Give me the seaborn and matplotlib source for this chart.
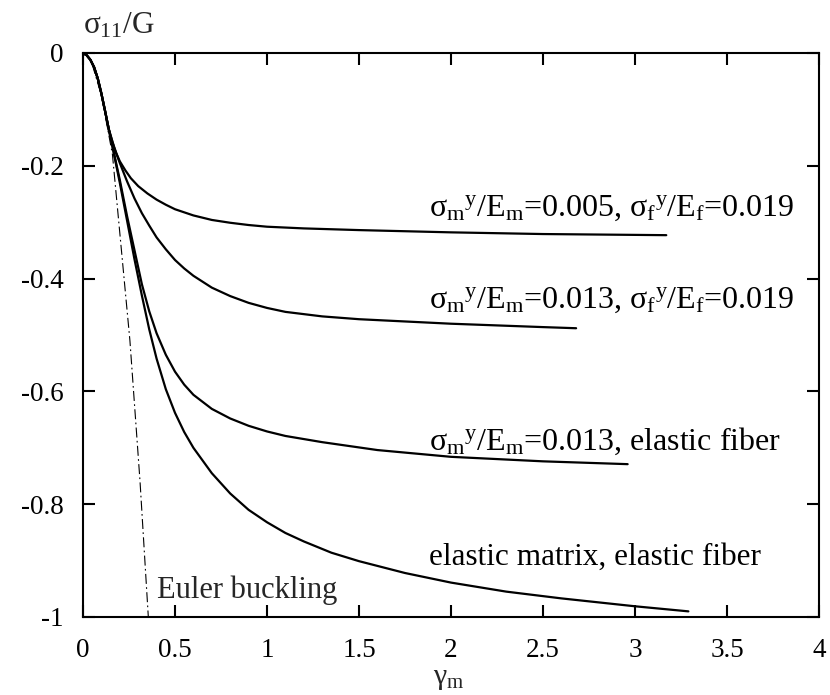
import matplotlib
matplotlib.use("Agg")
import matplotlib.pyplot as plt
import seaborn as sns
import pandas as pd

# ---------------- data ----------------
x_ticks = [0, 0.5, 1, 1.5, 2, 2.5, 3, 3.5, 4]
x_tick_labels = ["0", "0.5", "1", "1.5", "2", "2.5", "3", "3.5", "4"]
y_ticks = [0, -0.2, -0.4, -0.6, -0.8, -1.0]
y_tick_labels = ["0", "-0.2", "-0.4", "-0.6", "-0.8", "-1"]

start_x = [0.0, 0.02, 0.04, 0.06, 0.08, 0.10, 0.12, 0.14]
start_y = [0.0, -0.004, -0.012, -0.025, -0.045, -0.072, -0.103, -0.135]

c1_x = [0.16, 0.18, 0.20, 0.23, 0.26, 0.30, 0.35, 0.40, 0.45, 0.50, 0.60, 0.70,
        0.80, 0.90, 1.00, 1.2, 1.5, 2.0, 2.5, 3.17]
c1_y = [-0.158, -0.177, -0.192, -0.208, -0.222, -0.236, -0.249, -0.26, -0.269,
        -0.277, -0.288, -0.296, -0.301, -0.305, -0.308, -0.311, -0.314, -0.318,
        -0.321, -0.323]

c2_x = [0.17, 0.20, 0.24, 0.28, 0.32, 0.36, 0.40, 0.45, 0.50, 0.55, 0.60, 0.70,
        0.80, 0.90, 1.00, 1.1, 1.3, 1.5, 2.0, 2.5, 2.68]
c2_y = [-0.168, -0.195, -0.228, -0.258, -0.284, -0.306, -0.327, -0.348, -0.367,
        -0.382, -0.395, -0.416, -0.431, -0.443, -0.452, -0.459, -0.467, -0.472,
        -0.48, -0.486, -0.488]

c3_x = [0.17, 0.20, 0.24, 0.28, 0.32, 0.36, 0.40, 0.45, 0.50, 0.55, 0.60, 0.70,
        0.80, 0.90, 1.00, 1.1, 1.3, 1.6, 2.0, 2.5, 2.96]
c3_y = [-0.18, -0.225, -0.29, -0.35, -0.41, -0.458, -0.497, -0.535, -0.565,
        -0.588, -0.606, -0.631, -0.648, -0.661, -0.671, -0.679, -0.69, -0.704,
        -0.716, -0.724, -0.729]

c4_x = [0.17, 0.20, 0.24, 0.28, 0.32, 0.36, 0.40, 0.45, 0.50, 0.55, 0.60, 0.70,
        0.80, 0.90, 1.00, 1.1, 1.2, 1.35, 1.5, 1.75, 2.0, 2.3, 2.6, 3.0, 3.29]
c4_y = [-0.182, -0.23, -0.298, -0.366, -0.43, -0.49, -0.542, -0.596, -0.638,
        -0.672, -0.70, -0.745, -0.781, -0.81, -0.832, -0.851, -0.866, -0.886,
        -0.901, -0.922, -0.939, -0.955, -0.967, -0.981, -0.99]

euler_x = [0.05, 0.1, 0.16, 0.255, 0.31, 0.355]
euler_y = [-0.02, -0.075, -0.18, -0.51, -0.76, -1.0]

labels = [
    r"$\sigma_{m}{}^{y}/E_{m}$=0.005, $\sigma_{f}{}^{y}/E_{f}$=0.019",
    r"$\sigma_{m}{}^{y}/E_{m}$=0.013, $\sigma_{f}{}^{y}/E_{f}$=0.019",
    r"$\sigma_{m}{}^{y}/E_{m}$=0.013, elastic fiber",
    "elastic matrix, elastic fiber",
]
label_x = [1.88, 1.88, 1.88, 1.88]
label_y = [-0.288, -0.451, -0.704, -0.908]
label_size = [23, 23, 23, 22.5]

# ---------------- style ----------------
sns.set_theme(style="ticks")
plt.rcParams["font.family"] = ["Liberation Serif", "DejaVu Serif"]
plt.rcParams["mathtext.fontset"] = "custom"
plt.rcParams["mathtext.rm"] = "Liberation Serif"
plt.rcParams["mathtext.it"] = "Liberation Serif"
plt.rcParams["mathtext.bf"] = "Liberation Serif:bold"
plt.rcParams["axes.unicode_minus"] = False

fig = plt.figure(figsize=(8.3, 6.95), dpi=100)
ax = fig.add_axes([83 / 830, 78 / 695, 736 / 830, 564 / 695])

curves = [c1_x, c2_x, c3_x, c4_x], [c1_y, c2_y, c3_y, c4_y]
for cx, cy in zip(*curves):
    df = pd.DataFrame({"x": start_x + cx, "y": start_y + cy})
    sns.lineplot(data=df, x="x", y="y", ax=ax, color="black", lw=1.6,
                 estimator=None, sort=False)
for ln in ax.lines:
    ln.set_solid_joinstyle("round")

dfe = pd.DataFrame({"x": euler_x, "y": euler_y})
sns.lineplot(data=dfe, x="x", y="y", ax=ax, color="black", lw=0.8,
             estimator=None, sort=False, linestyle=(0, (9, 3, 1.5, 3)))

for t, lx, ly, fs in zip(labels, label_x, label_y, label_size):
    ax.text(lx, ly, t, fontsize=fs, ha="left", va="baseline", color="black")
ax.text(0.4, -0.967, "Euler buckling", fontsize=22, ha="left", va="baseline")

ax.set_xlim(0, 4)
ax.set_ylim(-1, 0)
ax.set_xticks(x_ticks, x_tick_labels)
ax.set_yticks(y_ticks, y_tick_labels)
ax.set_xlabel("")
ax.set_ylabel("")
ax.tick_params(direction="in", top=True, right=True, length=8.6, width=1.5,
               labelsize=19.5, colors="black")
ax.tick_params(axis="x", pad=15)
ax.tick_params(axis="y", pad=14)
for s in ax.spines.values():
    s.set_linewidth(1.5)
    s.set_color("black")
    s.set_visible(True)

fig.text(83 / 830, 1 - 33 / 695, r"$\sigma_{11}$/G", fontsize=22.5, ha="left", va="baseline")
fig.text(449 / 830, 1 - 684 / 695, r"$\gamma_{m}$", fontsize=21.5, ha="center", va="baseline")

fig.savefig("out.png", dpi=100)
